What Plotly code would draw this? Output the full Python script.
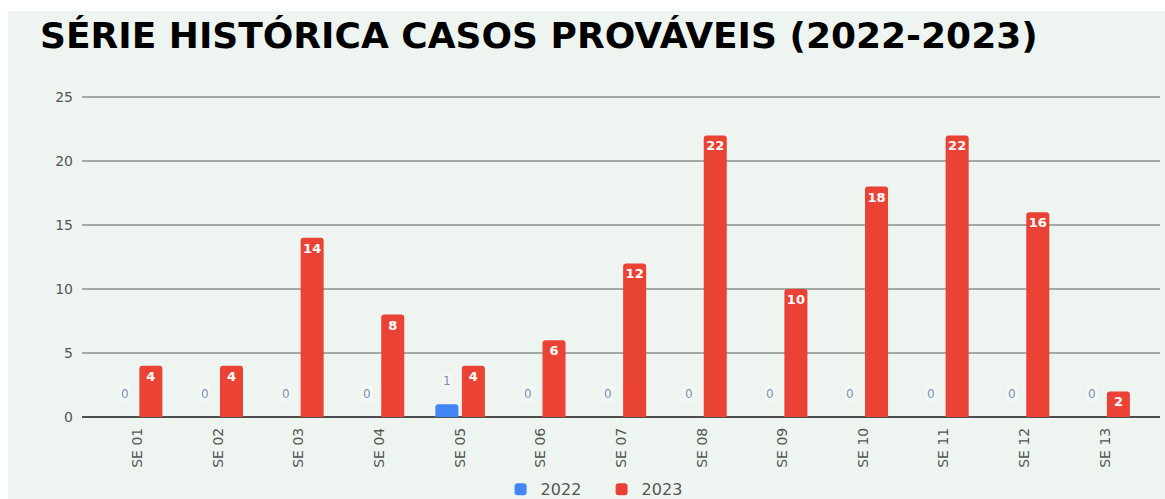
import plotly.graph_objects as go

# Epidemiological weeks and probable cases per year
weeks = ["SE 01", "SE 02", "SE 03", "SE 04", "SE 05", "SE 06", "SE 07",
         "SE 08", "SE 09", "SE 10", "SE 11", "SE 12", "SE 13"]
cases_2022 = [0, 0, 0, 0, 1, 0, 0, 0, 0, 0, 0, 0, 0]
cases_2023 = [4, 4, 14, 8, 4, 6, 12, 22, 10, 18, 22, 16, 2]
y_ticks = [0, 5, 10, 15, 20, 25]

BLUE = "#4285f4"
RED = "#ea4335"
PANEL = "#eef5f0"
FONT = "DejaVu Sans"

fig = go.Figure()

fig.add_trace(go.Bar(
    name="2022", x=weeks, y=cases_2022,
    marker=dict(color=BLUE, cornerradius=3, line=dict(width=0)),
    hoverinfo="x+y",
))

fig.add_trace(go.Bar(
    name="2023", x=weeks, y=cases_2023,
    marker=dict(color=RED, cornerradius=3, line=dict(width=0)),
    text=[str(v) for v in cases_2023],
    textposition="inside",
    insidetextanchor="end",
    textangle=0,
    constraintext="none",
    textfont=dict(family=FONT, size=13, color="#ffffff", weight="bold"),
    hoverinfo="x+y",
))

# 2022 values sit above their bars, offset onto the left bar of each group
annotations = []
for wk, v in zip(weeks, cases_2022):
    annotations.append(dict(
        x=wk, y=v, xref="x", yref="y",
        text=str(v), showarrow=False,
        xshift=-13, yshift=23, yanchor="middle",
        font=dict(family=FONT, size=12, color="#7a90b8"),
        bgcolor="rgba(255,255,255,0.35)",
    ))

fig.update_layout(
    width=1165, height=499,
    margin=dict(l=82, r=5, t=96, b=82, autoexpand=False),
    paper_bgcolor="#ffffff",
    plot_bgcolor="rgba(0,0,0,0)",
    barmode="group",
    bargap=0.343,
    bargroupgap=0.13,
    title=dict(
        text="<b>SÉRIE HISTÓRICA CASOS PROVÁVEIS (2022-2023)</b>",
        font=dict(family=FONT, size=36, color="#000000"),
        x=40 / 1165, xanchor="left", xref="container",
        y=1 - 35 / 499, yanchor="middle", yref="container",
    ),
    shapes=[dict(
        type="rect", xref="paper", yref="paper",
        x0=-74 / 1078, x1=1.01, y0=-0.27, y1=406 / 321,
        fillcolor=PANEL, line=dict(width=0), layer="below",
    )],
    xaxis=dict(
        type="category",
        range=[-0.69, 12.68],
        tickangle=-90,
        tickfont=dict(family=FONT, size=14, color="#555555"),
        ticklabelstandoff=7,
        showgrid=False, showline=False, zeroline=False,
    ),
    yaxis=dict(
        range=[0, 25.08],
        tickvals=y_ticks,
        tickfont=dict(family=FONT, size=14, color="#555555"),
        ticklabelstandoff=8,
        showgrid=True, gridcolor="#a3aaa6", gridwidth=1.6,
        zeroline=True, zerolinecolor="#4d4d4d", zerolinewidth=1.6,
        showline=False,
    ),
    legend=dict(
        orientation="h",
        x=0.482, xanchor="center",
        y=-0.225, yanchor="middle",
        entrywidth=56,
        font=dict(family=FONT, size=16, color="#555555"),
        bgcolor="rgba(0,0,0,0)",
        itemclick=False,
    ),
    annotations=annotations,
    showlegend=True,
)

fig.write_html("out.html")
